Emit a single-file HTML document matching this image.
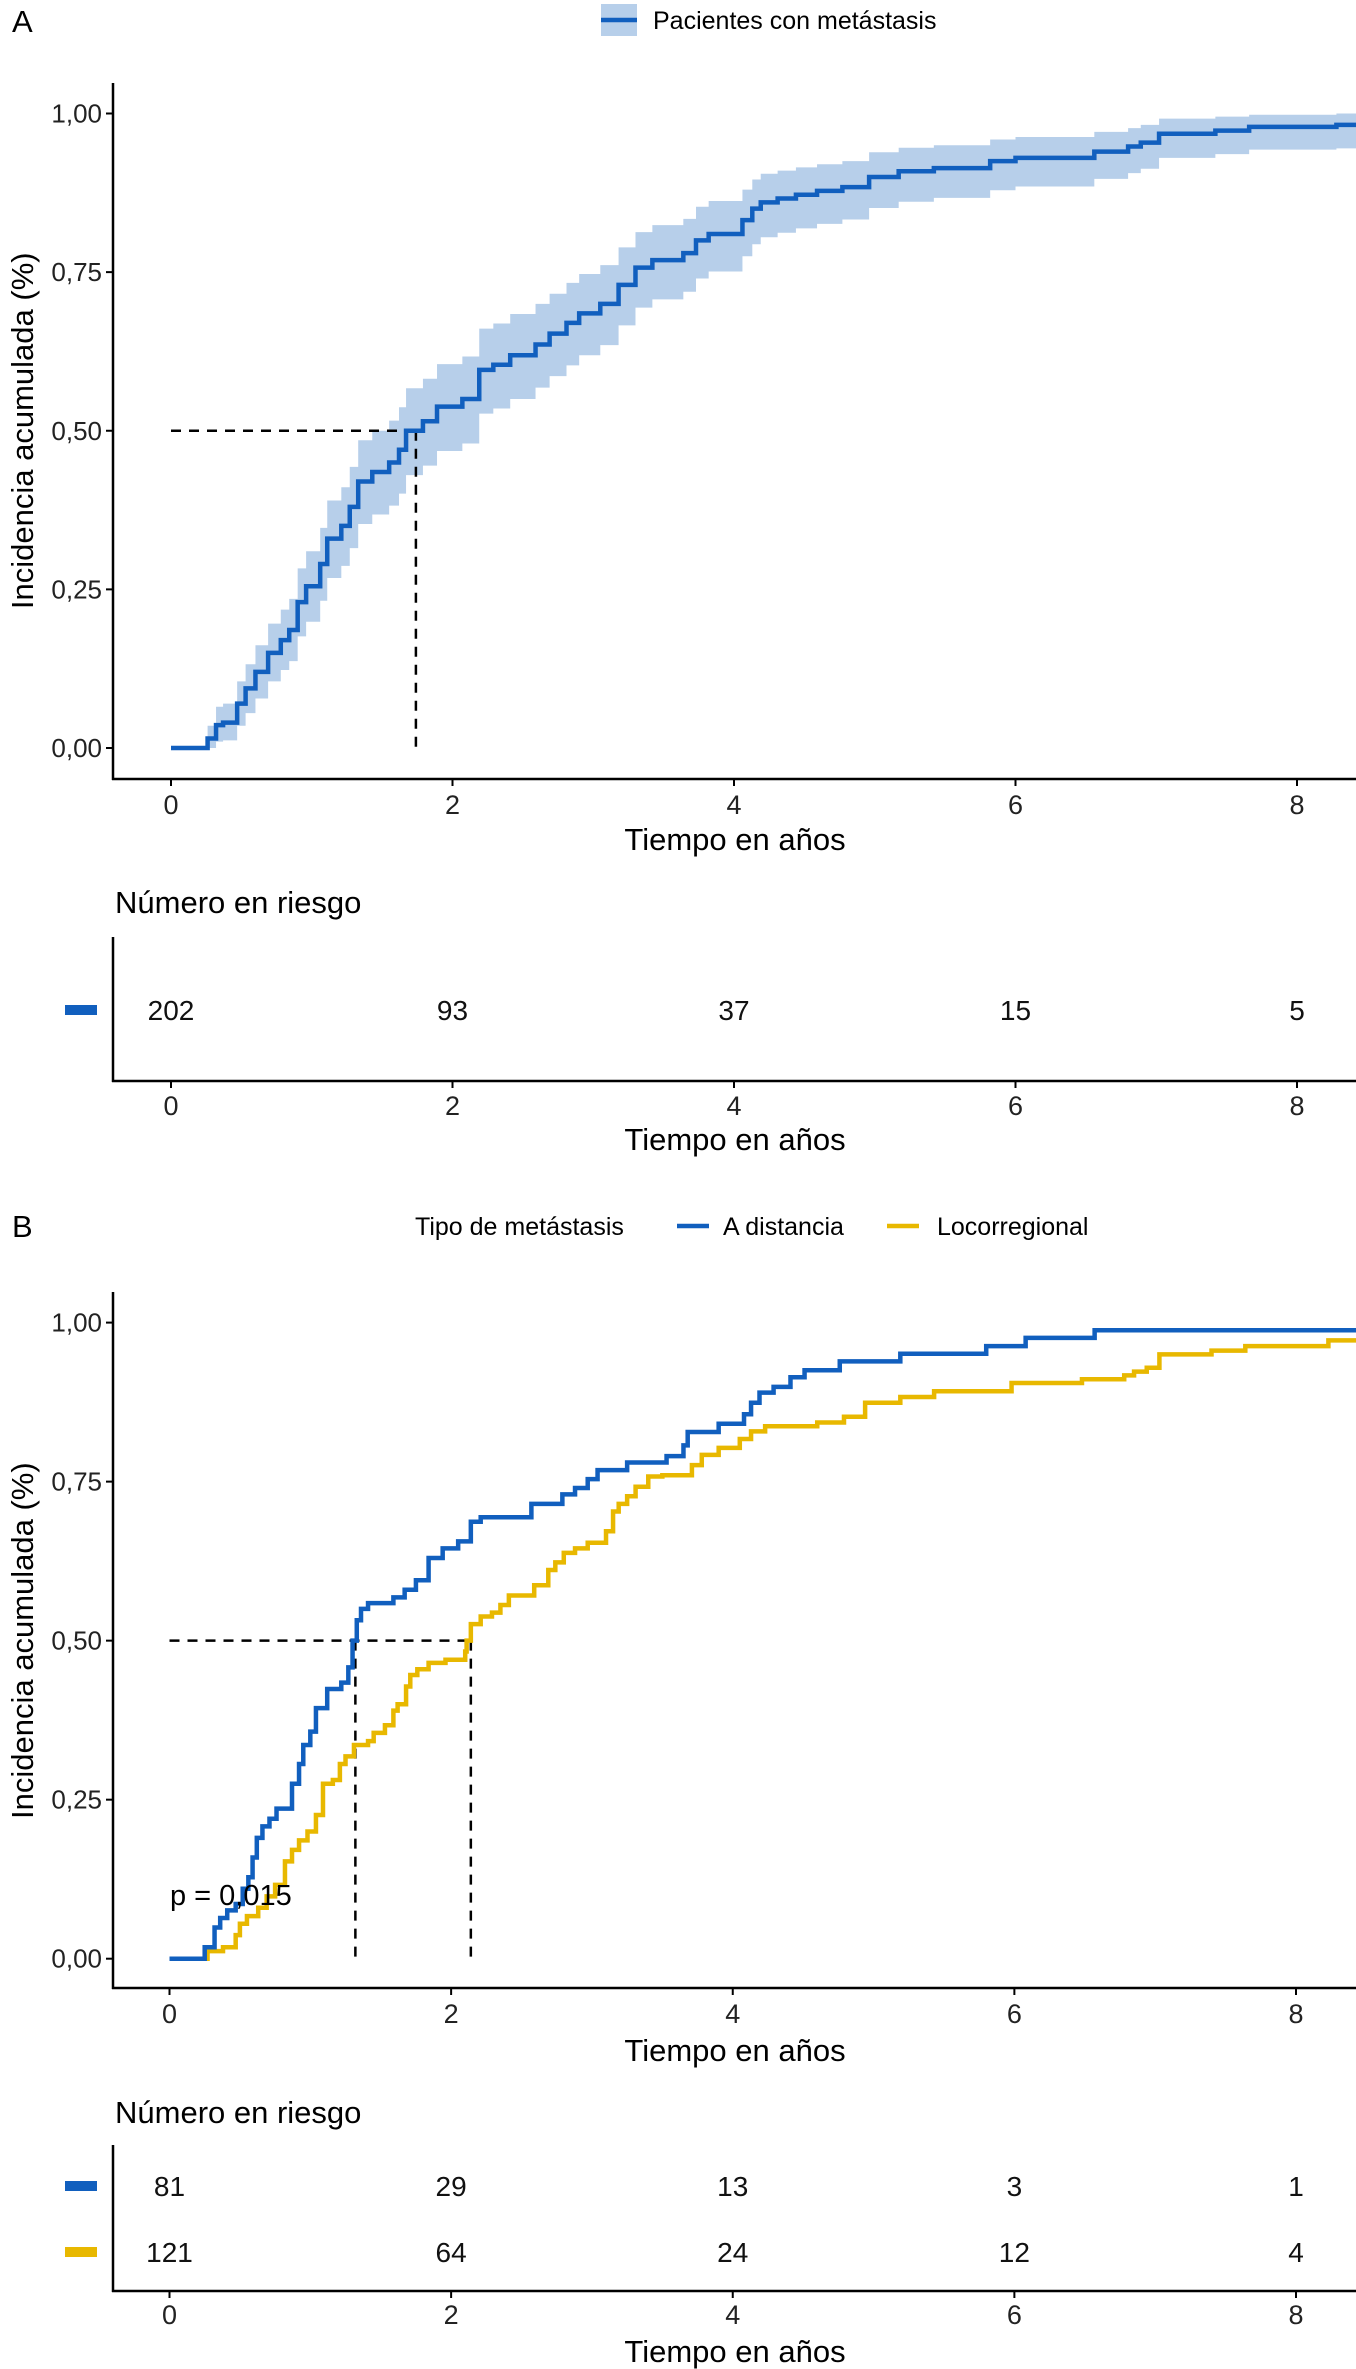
<!DOCTYPE html>
<html><head><meta charset="utf-8">
<style>
html,body{margin:0;padding:0;background:#fff;}
svg{display:block;font-family:"Liberation Sans",Arial,sans-serif;}
</style></head>
<body>
<svg id="chart" width="1356" height="2369" viewBox="0 0 1356 2369" xmlns="http://www.w3.org/2000/svg">
  <g id="panelA"></g>
  <g id="panelB"></g>
</svg>
<script>
// ---- Panel A data ----
const xTicks = [0, 2, 4, 6, 8];
const yTicks = [0, 0.25, 0.5, 0.75, 1];
const yTickLabels = ["0,00", "0,25", "0,50", "0,75", "1,00"];
const aTimes = [0, 0.26, 0.32, 0.37, 0.47, 0.53, 0.60, 0.69, 0.78, 0.84, 0.90, 0.96, 1.06, 1.11, 1.21, 1.27, 1.33, 1.43, 1.55, 1.62, 1.67, 1.79, 1.89, 2.07, 2.19, 2.29, 2.41, 2.59, 2.69, 2.81, 2.90, 3.05, 3.18, 3.30, 3.42, 3.64, 3.73, 3.82, 4.06, 4.13, 4.19, 4.31, 4.44, 4.59, 4.77, 4.96, 5.17, 5.42, 5.82, 6.00, 6.56, 6.80, 6.89, 7.02, 7.42, 7.66, 8.28];
const aEst = [0, 0.015, 0.036, 0.04, 0.07, 0.094, 0.12, 0.15, 0.17, 0.186, 0.23, 0.255, 0.29, 0.33, 0.35, 0.38, 0.42, 0.435, 0.45, 0.47, 0.50, 0.515, 0.538, 0.55, 0.596, 0.604, 0.619, 0.636, 0.653, 0.67, 0.685, 0.70, 0.73, 0.757, 0.769, 0.78, 0.80, 0.81, 0.832, 0.85, 0.86, 0.866, 0.872, 0.878, 0.884, 0.90, 0.909, 0.914, 0.925, 0.93, 0.94, 0.948, 0.954, 0.968, 0.973, 0.979, 0.982];
const aLow = [0, 0.0, 0.01, 0.012, 0.035, 0.055, 0.078, 0.105, 0.123, 0.137, 0.176, 0.199, 0.232, 0.268, 0.287, 0.315, 0.353, 0.368, 0.382, 0.401, 0.43, 0.445, 0.468, 0.48, 0.527, 0.535, 0.55, 0.568, 0.586, 0.603, 0.619, 0.635, 0.666, 0.694, 0.707, 0.719, 0.74, 0.751, 0.775, 0.794, 0.805, 0.812, 0.819, 0.826, 0.833, 0.851, 0.861, 0.867, 0.879, 0.885, 0.897, 0.906, 0.913, 0.93, 0.936, 0.943, 0.945];
const aHigh = [0, 0.035, 0.065, 0.07, 0.105, 0.132, 0.162, 0.196, 0.218, 0.235, 0.283, 0.31, 0.347, 0.39, 0.411, 0.443, 0.485, 0.5, 0.516, 0.537, 0.567, 0.582, 0.605, 0.617, 0.661, 0.669, 0.684, 0.7, 0.716, 0.733, 0.747, 0.761, 0.789, 0.813, 0.824, 0.834, 0.853, 0.862, 0.88, 0.896, 0.905, 0.91, 0.915, 0.92, 0.925, 0.939, 0.946, 0.95, 0.959, 0.963, 0.971, 0.977, 0.982, 0.992, 0.995, 0.998, 1.0];
const aMedian = 1.74;
const aRiskCounts = [202, 93, 37, 15, 5];

// ---- Panel B data ----
const bBlueTimes = [0, 0.25, 0.32, 0.36, 0.41, 0.47, 0.52, 0.56, 0.59, 0.62, 0.66, 0.71, 0.76, 0.87, 0.92, 0.95, 1.00, 1.04, 1.12, 1.22, 1.27, 1.30, 1.33, 1.36, 1.41, 1.59, 1.67, 1.75, 1.84, 1.94, 2.05, 2.14, 2.21, 2.57, 2.79, 2.88, 2.97, 3.04, 3.25, 3.53, 3.65, 3.68, 3.90, 4.08, 4.13, 4.19, 4.29, 4.41, 4.51, 4.76, 5.19, 5.80, 6.08, 6.57];
const bBlueEst = [0, 0.018, 0.049, 0.064, 0.076, 0.086, 0.11, 0.128, 0.159, 0.19, 0.208, 0.22, 0.236, 0.275, 0.306, 0.336, 0.357, 0.394, 0.424, 0.434, 0.458, 0.50, 0.532, 0.55, 0.559, 0.568, 0.58, 0.595, 0.63, 0.645, 0.656, 0.687, 0.694, 0.715, 0.73, 0.74, 0.754, 0.768, 0.78, 0.79, 0.807, 0.828, 0.841, 0.856, 0.874, 0.89, 0.899, 0.914, 0.925, 0.939, 0.951, 0.963, 0.976, 0.988];
const bYellowTimes = [0, 0.27, 0.38, 0.47, 0.50, 0.55, 0.63, 0.69, 0.75, 0.82, 0.87, 0.92, 0.98, 1.04, 1.09, 1.16, 1.21, 1.25, 1.31, 1.41, 1.45, 1.53, 1.59, 1.62, 1.68, 1.71, 1.76, 1.84, 1.96, 2.10, 2.11, 2.14, 2.21, 2.29, 2.35, 2.41, 2.59, 2.69, 2.74, 2.80, 2.88, 2.97, 3.10, 3.15, 3.19, 3.25, 3.31, 3.40, 3.50, 3.71, 3.78, 3.90, 4.05, 4.13, 4.23, 4.60, 4.79, 4.94, 5.19, 5.43, 5.98, 6.48, 6.78, 6.85, 6.94, 7.03, 7.40, 7.64, 8.23];
const bYellowEst = [0, 0.012, 0.018, 0.037, 0.055, 0.067, 0.08, 0.098, 0.116, 0.153, 0.171, 0.186, 0.2, 0.226, 0.275, 0.281, 0.306, 0.318, 0.336, 0.342, 0.355, 0.367, 0.39, 0.40, 0.428, 0.446, 0.455, 0.465, 0.47, 0.483, 0.50, 0.526, 0.538, 0.544, 0.556, 0.571, 0.587, 0.611, 0.623, 0.638, 0.645, 0.654, 0.672, 0.703, 0.715, 0.727, 0.742, 0.758, 0.76, 0.776, 0.792, 0.803, 0.817, 0.829, 0.837, 0.843, 0.852, 0.874, 0.883, 0.892, 0.905, 0.911, 0.917, 0.923, 0.929, 0.95, 0.956, 0.963, 0.972];
const bMedians = [1.32, 2.14];
const bRiskBlue = [81, 29, 13, 3, 1];
const bRiskYellow = [121, 64, 24, 12, 4];

const NS = "http://www.w3.org/2000/svg";
const BLUE = "#115fbe", YELLOW = "#e8b800", BAND = "#b7cfea";
const T_END = 8.45;

function el(parent, tag, attrs, text) {
  const e = document.createElementNS(NS, tag);
  for (const k in attrs) e.setAttribute(k, attrs[k]);
  if (text !== undefined) e.textContent = text;
  parent.appendChild(e);
  return e;
}
function makeX(x0, x8) { return t => x0 + (x8 - x0) * t / 8; }
function makeY(y0, y1) { return v => y0 + (y1 - y0) * v; }

function stepPath(times, vals, X, Y) {
  let d = "M" + X(times[0]) + "," + Y(vals[0]);
  for (let i = 1; i < times.length; i++) {
    d += " H" + X(times[i]) + " V" + Y(vals[i]);
  }
  d += " H" + X(T_END);
  return d;
}
function bandPath(times, lo, hi, X, Y) {
  let up = "M" + X(times[0]) + "," + Y(hi[0]);
  for (let i = 1; i < times.length; i++) up += " H" + X(times[i]) + " V" + Y(hi[i]);
  up += " H" + X(T_END);
  let down = " V" + Y(lo[lo.length - 1]);
  for (let i = times.length - 1; i >= 1; i--) down += " H" + X(times[i]) + " V" + Y(lo[i - 1]);
  down += " H" + X(times[0]) + " Z";
  return up + down;
}

function axes(g, X, Y, axLeft, axTop, axBottom, axRight, tickLabelY, titleY) {
  // y ticks
  yTicks.forEach((v, i) => {
    const t = el(g, "line", {x1: axLeft - 7, x2: axLeft, y1: Y(v), y2: Y(v), stroke: "#000", "stroke-width": 2});
    
    
    const l = el(g, "text", {x: axLeft - 11, y: Y(v) + 9, "text-anchor": "end", "font-size": 26, fill: "#222"}, yTickLabels[i]);
    
    
  });
  xTicks.forEach(v => {
    const t = el(g, "line", {x1: X(v), x2: X(v), y1: axBottom, y2: axBottom + 7, stroke: "#000", "stroke-width": 2});
    
    
    const l = el(g, "text", {x: X(v), y: tickLabelY + 10, "text-anchor": "middle", "font-size": 27, fill: "#222"}, String(v));
    
    
  });
  const ya = el(g, "line", {x1: axLeft, x2: axLeft, y1: axTop, y2: axBottom + 1, stroke: "#000", "stroke-width": 2.5});
  
  
  const xa = el(g, "line", {x1: axLeft - 1, x2: axRight, y1: axBottom, y2: axBottom, stroke: "#000", "stroke-width": 2.5});
  
  
  const xt = el(g, "text", {x: 735, y: titleY + 11, "text-anchor": "middle", "font-size": 31}, "Tiempo en años");
  
  
  const cy = (Y(0) + Y(1)) / 2;
  const yt = el(g, "text", {x: 0, y: 0, transform: "translate(33," + cy + ") rotate(-90)", "text-anchor": "middle", "font-size": 31}, "Incidencia acumulada (%)");
  
  
}

function riskTable(g, X, titleY, top, bottom, rows, colors, tickY, axTitleY) {
  const tt = el(g, "text", {x: 115, y: titleY + 11, "font-size": 31}, "Número en riesgo");
  
  
  rows.forEach((r, ri) => {
    const ry = r.y;
    const key = el(g, "rect", {x: 65, y: ry - 5, width: 32, height: 10, fill: colors[ri]});
    
    
    r.counts.forEach((c, ci) => {
      const t = el(g, "text", {x: X(xTicks[ci]), y: ry + 10, "text-anchor": "middle", "font-size": 28, fill: "#111"}, String(c));
      
      
    });
  });
  const ya = el(g, "line", {x1: 113, x2: 113, y1: top, y2: bottom + 1, stroke: "#000", "stroke-width": 2.5});
  
  
  const xa = el(g, "line", {x1: 112, x2: 1356, y1: bottom, y2: bottom, stroke: "#000", "stroke-width": 2.5});
  
  
  xTicks.forEach(v => {
    const t = el(g, "line", {x1: X(v), x2: X(v), y1: bottom, y2: bottom + 7, stroke: "#000", "stroke-width": 2});
    
    
    const l = el(g, "text", {x: X(v), y: tickY + 10, "text-anchor": "middle", "font-size": 27, fill: "#222"}, String(v));
    
    
  });
  const at = el(g, "text", {x: 735, y: axTitleY + 11, "text-anchor": "middle", "font-size": 31}, "Tiempo en años");
  
  
}

function dashed(g, X, Y, t) {
  const h = el(g, "line", {x1: X(0), x2: X(t), y1: Y(0.5), y2: Y(0.5), stroke: "#000", "stroke-width": 2.5, "stroke-dasharray": "10,8"});
  
  
  const v = el(g, "line", {x1: X(t), x2: X(t), y1: Y(0.5), y2: Y(0), stroke: "#000", "stroke-width": 2.5, "stroke-dasharray": "10,8"});
  
  
}

// ---------- Panel A ----------
(function () {
  const g = document.getElementById("panelA");
  const X = makeX(171, 1297);
  const Y = makeY(748, 113.5);
  const lab = el(g, "text", {x: 12, y: 32, "font-size": 31}, "A");
  
  
  const lk = el(g, "rect", {x: 601, y: 4, width: 36, height: 32, fill: BAND});
  
  
  const ll = el(g, "line", {x1: 601, x2: 637, y1: 20, y2: 20, stroke: BLUE, "stroke-width": 4.5});
  
  
  const lt = el(g, "text", {x: 653, y: 29, "font-size": 25}, "Pacientes con metástasis");
  
  

  const clip = el(g, "clipPath", {id: "clipA"});
  el(clip, "rect", {x: 114, y: 80, width: 1242, height: 698});
  const band = el(g, "path", {d: bandPath(aTimes, aLow, aHigh, X, Y), fill: BAND, "clip-path": "url(#clipA)"});
  
  
  dashed(g, X, Y, aMedian);
  const line = el(g, "path", {d: stepPath(aTimes, aEst, X, Y), fill: "none", stroke: BLUE, "stroke-width": 4.5, "clip-path": "url(#clipA)"});
  
  
  axes(g, X, Y, 113, 83, 779, 1356, 804, 839);
  riskTable(g, X, 902, 937, 1081, [{y: 1010, counts: aRiskCounts}], [BLUE], 1105, 1139);
})();

// ---------- Panel B ----------
(function () {
  const g = document.getElementById("panelB");
  const X = makeX(169.5, 1296);
  const Y = makeY(1958.7, 1322.6);
  const lab = el(g, "text", {x: 12, y: 1237, "font-size": 31}, "B");
  
  
  const lg = el(g, "text", {x: 415, y: 1235, "font-size": 25}, "Tipo de metástasis");
  
  
  const k1 = el(g, "line", {x1: 677, x2: 709, y1: 1226, y2: 1226, stroke: BLUE, "stroke-width": 4.5});
  
  
  const t1 = el(g, "text", {x: 723, y: 1235, "font-size": 25}, "A distancia");
  
  
  const k2 = el(g, "line", {x1: 887, x2: 919, y1: 1226, y2: 1226, stroke: YELLOW, "stroke-width": 4.5});
  
  
  const t2 = el(g, "text", {x: 937, y: 1235, "font-size": 25}, "Locorregional");
  
  

  const clip = el(g, "clipPath", {id: "clipB"});
  el(clip, "rect", {x: 114, y: 1290, width: 1242, height: 697});
  dashed(g, X, Y, bMedians[1]);
  const h2 = el(g, "line", {x1: X(bMedians[0]), x2: X(bMedians[0]), y1: Y(0.5), y2: Y(0), stroke: "#000", "stroke-width": 2.5, "stroke-dasharray": "10,8"});
  
  
  const yl = el(g, "path", {d: stepPath(bYellowTimes, bYellowEst, X, Y), fill: "none", stroke: YELLOW, "stroke-width": 4.5, "clip-path": "url(#clipB)"});
  
  
  const bl = el(g, "path", {d: stepPath(bBlueTimes, bBlueEst, X, Y), fill: "none", stroke: BLUE, "stroke-width": 4.5, "clip-path": "url(#clipB)"});
  
  
  const p = el(g, "text", {x: 170, y: 1905, "font-size": 29}, "p = 0,015");
  
  
  axes(g, X, Y, 113, 1292, 1988, 1356, 2013, 2050);
  riskTable(g, X, 2112, 2145, 2291, [{y: 2186, counts: bRiskBlue}, {y: 2252, counts: bRiskYellow}], [BLUE, YELLOW], 2314, 2351);
})();
</script>
</body></html>
